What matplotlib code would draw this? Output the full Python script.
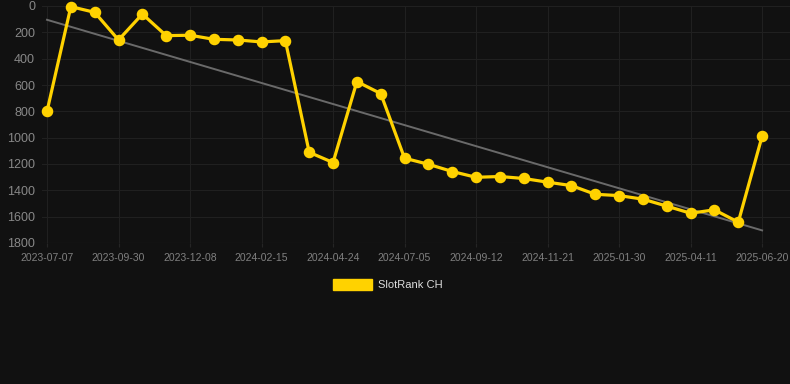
import matplotlib
matplotlib.use("Agg")
import matplotlib.pyplot as plt
import numpy as np

plt.rcParams['font.family'] = ['Liberation Sans', 'DejaVu Sans']

ranks = [800, 5, 48, 258, 61, 225, 222, 253, 258, 273, 263, 1111, 1189, 574, 665,
         1156, 1202, 1257, 1301, 1295, 1310, 1338, 1364, 1430, 1440, 1467, 1520,
         1574, 1548, 1642, 989]
tick_labels = ["2023-07-07", "2023-09-30", "2023-12-08", "2024-02-15", "2024-04-24",
               "2024-07-05", "2024-09-12", "2024-11-21", "2025-01-30", "2025-04-11",
               "2025-06-20"]
series_name = "SlotRank CH"

bg = "#111111"
fig = plt.figure(figsize=(7.9, 3.84), dpi=100, facecolor=bg)
ax = fig.add_axes([42/790, 1-243/384, (790-42)/790, (243-6)/384])
ax.set_facecolor(bg)

x = np.arange(len(ranks))
coef = np.polyfit(x, ranks, 1)
ax.plot(x, np.polyval(coef, x), color="#6a6a6a", lw=1.4, zorder=2)
ax.plot(x, ranks, color="#FFD200", lw=2.3, marker="o", markersize=7.3,
        zorder=3, clip_on=False, label=series_name)

ax.set_ylim(1800, 0)
ax.set_xlim(-0.21, 31.17)
ax.set_yticks(np.arange(0, 1801, 200))
ax.set_xticks(x[::3])
ax.set_xticklabels(tick_labels)
ax.grid(True, color="#202020", lw=0.8)
for s in ax.spines.values():
    s.set_visible(False)
ax.tick_params(axis='y', labelcolor="#888888", labelsize=9, length=0, pad=5)
ax.tick_params(axis='x', labelcolor="#808080", color="#252525", labelsize=7.5,
               length=3, width=0.8, pad=4)
ax.axhline(1800, color="#2a2a2a", lw=0.8)

# legend
fig.patches.append(plt.Rectangle((333/790, 1-290/384), 39/790, 11/384,
                                 transform=fig.transFigure, color="#FFD200"))
fig.text(378/790, 1-285/384, series_name, color="#dddddd", fontsize=8,
         va="center", ha="left")

fig.savefig("out.png", dpi=100, facecolor=bg)
